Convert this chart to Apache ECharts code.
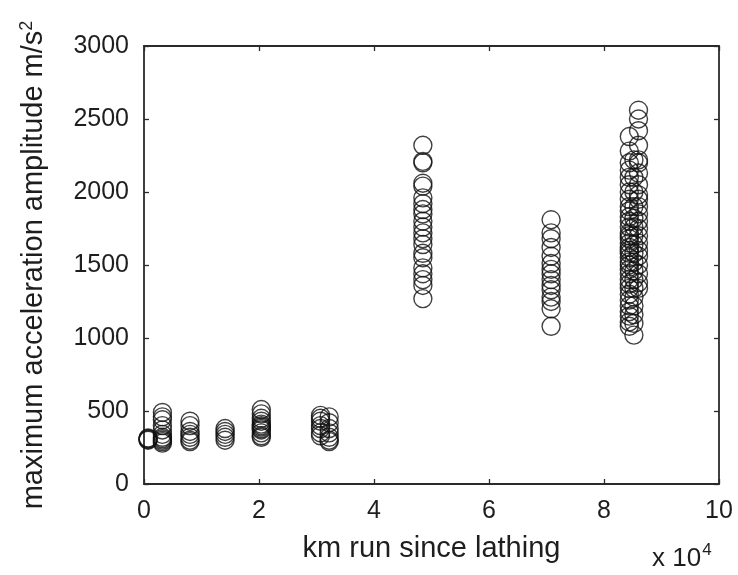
<!DOCTYPE html>
<html>
<head>
<meta charset="utf-8">
<script src="https://cdn.jsdelivr.net/npm/echarts@6/dist/echarts.min.js"></script>
<style>
  html, body { margin: 0; padding: 0; background: #fff; }
  #chart { width: 738px; height: 575px; }
</style>
</head>
<body>
<div id="chart"></div>
<script>
// Distance run since lathing, in units of 10^4 km, one entry per measurement group
const groupKm = [0.07, 0.32, 0.80, 1.41, 2.04, 3.07, 3.22, 4.85, 7.08, 8.44, 8.52, 8.60];

// Maximum acceleration amplitude (m/s^2) measured in each group
const groupAcc = [
  [300, 305, 310, 315],
  [490, 460, 440, 400, 370, 340, 320, 310, 300, 290, 280],
  [430, 400, 360, 340, 320, 300, 290],
  [380, 360, 340, 320, 300],
  [510, 480, 450, 430, 410, 400, 390, 380, 370, 350, 330, 320],
  [470, 450, 430, 400, 380, 350, 330],
  [460, 420, 380, 350, 320, 300, 290],
  [2320, 2210, 2200, 2060, 2040, 1960, 1920, 1880, 1850, 1800, 1760, 1720, 1680,
   1640, 1580, 1550, 1480, 1440, 1400, 1360, 1270],
  [1810, 1720, 1680, 1620, 1560, 1510, 1470, 1440, 1400, 1360, 1330, 1280, 1250,
   1200, 1080],
  [2380, 2280, 2200, 2150, 2100, 2050, 2000, 1950, 1900, 1870, 1830, 1800, 1760,
   1720, 1700, 1680, 1650, 1620, 1600, 1580, 1550, 1520, 1500, 1470, 1440, 1400,
   1370, 1340, 1300, 1260, 1220, 1180, 1150, 1110, 1080],
  [2220, 2100, 2000, 1900, 1820, 1760, 1700, 1640, 1580, 1520, 1460, 1400, 1340,
   1280, 1220, 1160, 1100, 1020],
  [2560, 2500, 2420, 2320, 2220, 2200, 2130, 2050, 1980, 1950, 1900, 1850, 1800,
   1750, 1700, 1650, 1600, 1560, 1500, 1440, 1380, 1340]
];

// Axis ticks
const xTicks = [0, 2, 4, 6, 8, 10];
const yTicks = [0, 500, 1000, 1500, 2000, 2500, 3000];

const points = [];
groupKm.forEach((km, i) => groupAcc[i].forEach(a => points.push([km, a])));

const FONT = 'Liberation Sans, Arial, Helvetica, sans-serif';
const INK = '#1e1e1e';
const AXIS = '#2a2a2a';
const TICK_SIZE = 25;
const NAME_SIZE = 29;

function boxAxis(extra) {
  return Object.assign({
    axisLine: { show: true, onZero: false, lineStyle: { color: AXIS, width: 1.8 } },
    axisTick: { show: true, inside: true, length: 5, lineStyle: { color: AXIS, width: 1.3 } },
    splitLine: { show: false },
    axisLabel: { show: false }
  }, extra);
}

const plainNumber = v => String(v);

const chart = echarts.init(document.getElementById('chart'), null, { renderer: 'canvas' });
chart.setOption({
  animation: false,
  backgroundColor: '#fff',
  grid: { left: 144, top: 46, right: 19, bottom: 91 },
  xAxis: [
    boxAxis({
      type: 'value', min: xTicks[0], max: xTicks[xTicks.length - 1], interval: 2,
      name: 'km run since lathing', nameLocation: 'middle', nameGap: 50,
      nameTextStyle: { color: INK, fontFamily: FONT, fontSize: NAME_SIZE },
      axisLabel: { show: true, color: INK, fontFamily: FONT, fontSize: TICK_SIZE, margin: 15, formatter: plainNumber }
    }),
    boxAxis({
      type: 'value', position: 'top', min: xTicks[0], max: xTicks[xTicks.length - 1], interval: 2
    })
  ],
  yAxis: [
    boxAxis({
      type: 'value', min: yTicks[0], max: yTicks[yTicks.length - 1], interval: 500,
      name: 'maximum acceleration amplitude m/s{sup|2}', nameLocation: 'middle', nameGap: 94,
      nameTextStyle: {
        color: INK, fontFamily: FONT, fontSize: NAME_SIZE,
        rich: { sup: { fontSize: 18, verticalAlign: 'top', color: INK, fontFamily: FONT, padding: [0, 0, 14, 0] } }
      },
      axisLabel: { show: true, color: INK, fontFamily: FONT, fontSize: TICK_SIZE, margin: 15, formatter: plainNumber }
    }),
    boxAxis({
      type: 'value', position: 'right', min: yTicks[0], max: yTicks[yTicks.length - 1], interval: 500
    })
  ],
  graphic: [{
    type: 'text', left: 652, top: 542,
    style: {
      text: 'x 10{sup|4}', fill: INK, font: '26px ' + FONT,
      rich: { sup: { fontSize: 17, fill: INK, fontFamily: FONT, padding: [0, 0, 16, 1] } }
    }
  }],
  series: [{
    type: 'scatter',
    data: points,
    symbol: 'circle',
    symbolSize: 18,
    itemStyle: { color: 'rgba(0,0,0,0)', borderColor: '#111', borderWidth: 1.4 },
    silent: true
  }]
});
</script>
</body>
</html>
